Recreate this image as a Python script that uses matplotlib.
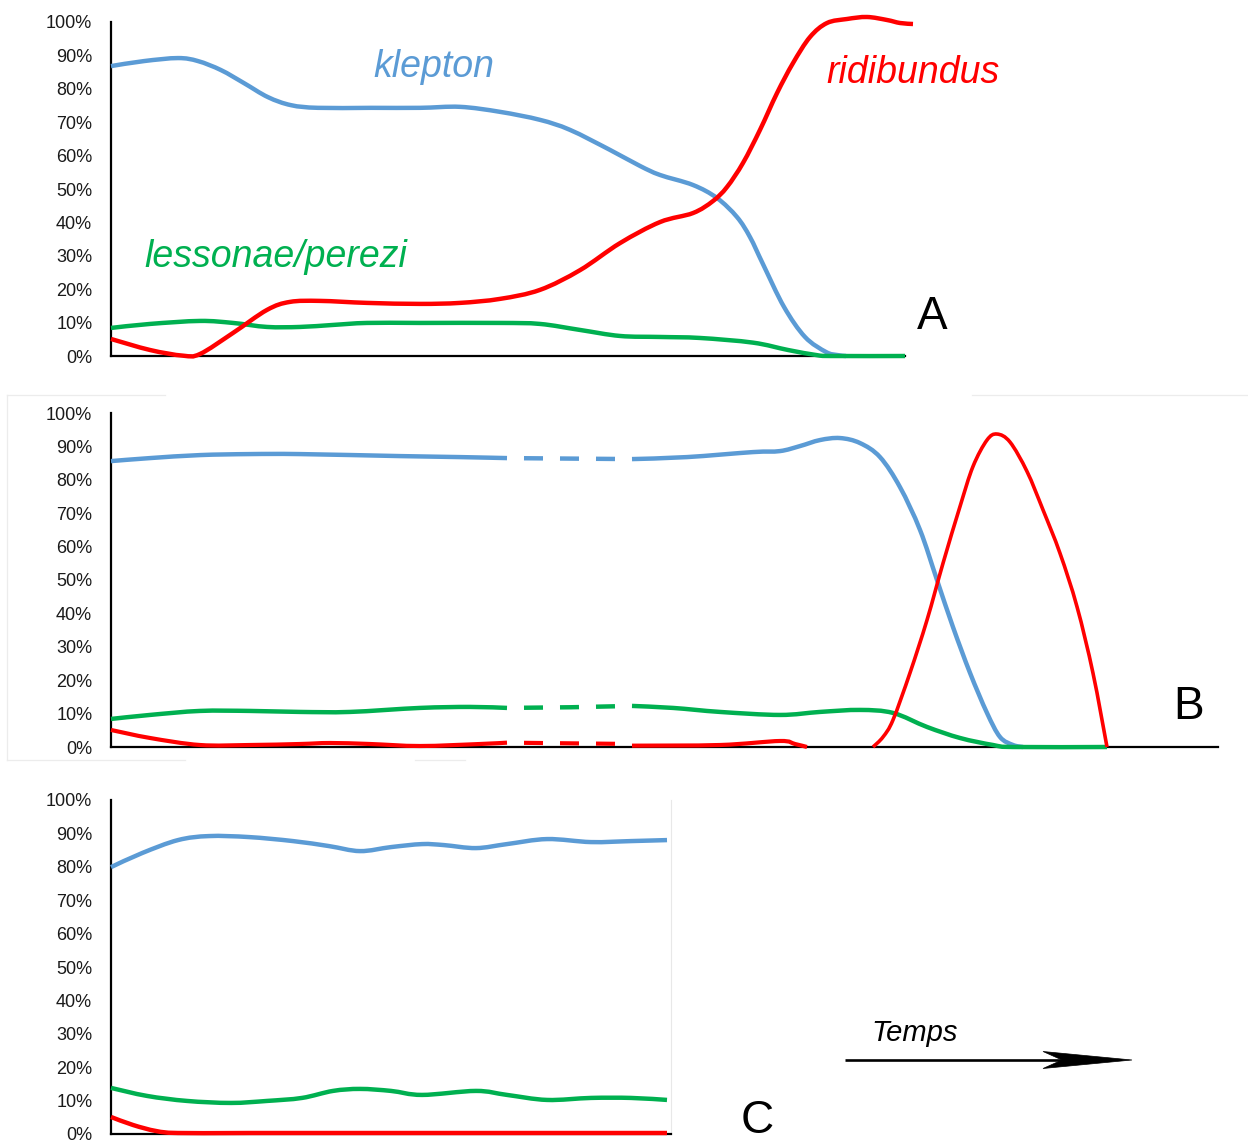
import numpy as np
import matplotlib
matplotlib.use("Agg")
import matplotlib.pyplot as plt
from matplotlib.path import Path
from matplotlib.patches import PathPatch, Polygon

# ---------------- data (time units, percentages) ----------------
tick_values = [0, 10, 20, 30, 40, 50, 60, 70, 80, 90, 100]
tick_labels = ["0%", "10%", "20%", "30%", "40%", "50%", "60%", "70%", "80%", "90%", "100%"]

# Panel A
a_klepton_t = [0, 3.3, 6.7, 8.7, 11.0, 13.3, 15.7, 18.0, 20.7, 26.0, 30.9, 34.9, 38.9, 42.9,
               45.9, 49.9, 52.9, 54.9, 58.2, 60.6, 62.6, 63.9, 65.2, 67.3, 69.4, 71.5, 72.6, 73.5]
a_klepton_v = [86.8, 88.3, 89.2, 88.3, 85.6, 81.7, 77.5, 75.1, 74.3, 74.3, 74.3, 74.6, 73.1, 70.7,
               67.7, 61.7, 56.9, 54.2, 51.2, 47.3, 41.6, 35.6, 27.5, 14.7, 5.7, 1.2, 0.3, 0.0]
a_ridibundus_t = [0, 3.9, 7.2, 8.9, 12.2, 15.6, 17.9, 20.9, 25.6, 30.9, 34.9, 38.9, 42.9, 46.9,
                  50.9, 54.9, 58.2, 60.2, 61.6, 63.2, 64.9, 66.6, 68.2, 69.9, 71.6, 73.6, 75.6,
                  77.6, 78.9, 80.2]
a_ridibundus_v = [5.1, 1.8, 0.1, 0.6, 6.9, 13.8, 16.2, 16.5, 15.9, 15.6, 15.9, 17.1, 19.8, 25.7,
                  33.8, 40.1, 42.8, 46.4, 50.6, 57.8, 67.7, 78.7, 87.7, 95.5, 99.7, 100.9, 101.5,
                  100.6, 99.7, 99.4]
a_lessonae_t = [0, 3.9, 8.9, 12.2, 15.6, 18.9, 22.2, 25.6, 30.9, 38.9, 42.9, 46.9, 50.9, 54.9,
                58.9, 64.2, 67.7, 70.5, 72.0, 79.4]
a_lessonae_v = [8.4, 9.6, 10.5, 9.9, 8.7, 8.7, 9.3, 9.9, 9.9, 9.9, 9.6, 7.8, 6.0, 5.7,
                5.4, 4.0, 1.8, 0.3, 0.0, 0.0]

# Panel B (solid part 1, dashed gap, solid part 2)
b_klepton_t1 = [0, 3.9, 8.9, 13.9, 18.9, 28.9, 34.9, 39.6]
b_klepton_v1 = [85.6, 86.5, 87.4, 87.7, 87.7, 87.1, 86.8, 86.5]
b_klepton_td = [39.6, 52.1]
b_klepton_vd = [86.5, 86.2]
b_klepton_t2 = [52.1, 57.6, 64.2, 66.9, 68.9, 70.9, 72.9, 74.9, 76.9, 78.9, 80.9, 82.6, 84.2,
                85.9, 87.6, 88.9, 90.2, 91.2]
b_klepton_v2 = [86.2, 86.8, 88.3, 88.6, 90.1, 91.9, 92.5, 91.0, 86.8, 77.8, 65.0, 50.0, 35.9,
                22.2, 10.2, 3.0, 0.6, 0.0]

b_lessonae_t1 = [0, 3.9, 8.9, 13.9, 18.9, 23.9, 30.9, 35.9, 39.6]
b_lessonae_v1 = [8.4, 9.6, 10.8, 10.8, 10.5, 10.5, 11.7, 12.0, 11.7]
b_lessonae_td = [39.6, 46.0, 52.1]
b_lessonae_vd = [11.7, 11.9, 12.3]
b_lessonae_t2 = [52.1, 56.2, 60.9, 66.9, 70.9, 74.9, 78.2, 81.6, 84.9, 88.2, 90.2, 99.6]
b_lessonae_v2 = [12.3, 11.7, 10.5, 9.6, 10.5, 11.1, 10.2, 6.0, 2.7, 0.6, 0.0, 0.0]

b_ridibundus_t1 = [0, 3.9, 8.9, 13.9, 18.9, 21.9, 25.9, 30.9, 36.9, 39.6]
b_ridibundus_v1 = [5.1, 2.7, 0.6, 0.6, 0.9, 1.2, 0.9, 0.3, 0.9, 1.3]
b_ridibundus_td = [39.6, 52.1]
b_ridibundus_vd = [1.3, 0.9]
b_ridibundus_t2 = [52.1, 60.9, 66.9, 68.4, 69.6]
b_ridibundus_v2 = [0.4, 0.6, 1.8, 0.9, 0.0]
b_ridibundus_t3 = [76.2, 77.2, 78.2, 79.9, 81.6, 83.2, 84.9, 86.2, 87.6, 88.6, 89.9, 91.6, 93.2,
                   94.9, 96.6, 98.2, 99.6]
b_ridibundus_v3 = [0.0, 3.0, 8.1, 22.2, 38.0, 55.0, 72.0, 84.0, 91.9, 93.7, 91.3, 82.5, 71.0,
                   58.0, 42.0, 22.1, 0.0]

# Panel C
c_klepton_t = [0, 3.1, 6.7, 9.8, 13.8, 18.2, 21.8, 24.9, 28.0, 31.1, 33.3, 36.5, 39.6, 43.6,
               48.0, 52.0, 55.6]
c_klepton_v = [79.9, 84.1, 88.0, 89.2, 88.9, 87.7, 86.2, 84.7, 85.9, 86.8, 86.5, 85.6, 86.8, 88.3,
               87.4, 87.7, 88.0]
c_lessonae_t = [0, 3.6, 7.6, 12.0, 15.6, 19.1, 22.2, 24.9, 28.0, 31.1, 36.5, 39.6, 43.6, 48.0,
                52.0, 55.6]
c_lessonae_v = [13.8, 11.4, 9.9, 9.3, 9.9, 10.8, 12.9, 13.5, 12.9, 11.7, 12.9, 11.7, 10.2, 10.8,
                10.8, 10.2]
c_ridibundus_t = [0, 2.2, 4.5, 6.7, 13.9, 28.9, 55.6]
c_ridibundus_v = [5.1, 2.7, 0.9, 0.3, 0.3, 0.3, 0.3]

# ---------------- style ----------------
BLUE = "#5B9BD5"
GREEN = "#00B050"
RED = "#FF0000"

W, H = 1248, 1144
plt.rcParams["font.family"] = ["Liberation Sans", "DejaVu Sans"]
plt.rcParams["lines.scale_dashes"] = False

fig = plt.figure(figsize=(W / 100, H / 100), dpi=100)

# overlay axes in pixel coordinates for decorations
over = fig.add_axes([0, 0, 1, 1])
over.set_xlim(0, W)
over.set_ylim(H, 0)
over.axis("off")
over.patch.set_alpha(0)


def add_panel(left, right, top, bottom):
    ax = fig.add_axes([left / W, 1 - bottom / H, (right - left) / W, (bottom - top) / H])
    ax.set_xlim(0, (right - left) / 10)
    ax.set_ylim(0, 100)
    ax.patch.set_alpha(0)
    ax.set_xticks([])
    ax.set_yticks(tick_values)
    ax.set_yticklabels(tick_labels)
    ax.tick_params(axis="y", length=0, pad=13.5, labelsize=13, labelcolor="#1a1a1a")
    for s in ("top", "right"):
        ax.spines[s].set_visible(False)
    for s in ("left", "bottom"):
        ax.spines[s].set_linewidth(1.6)
        ax.spines[s].set_color("black")
    return ax


def smooth_path(t, v):
    pts = np.column_stack([t, v]).astype(float)
    n = len(pts)
    verts = [pts[0]]
    codes = [Path.MOVETO]
    for i in range(n - 1):
        p0 = pts[i - 1] if i > 0 else pts[i]
        p1 = pts[i]
        p2 = pts[i + 1]
        p3 = pts[i + 2] if i + 2 < n else pts[i + 1]
        c1 = p1 + (p2 - p0) / 6.0
        c2 = p2 - (p3 - p1) / 6.0
        verts += [c1, c2, p2]
        codes += [Path.CURVE4] * 3
    return Path(verts, codes)


def curve(ax, t, v, color, lw=3.2, z=3):
    ax.add_patch(PathPatch(smooth_path(t, v), fill=False, edgecolor=color, lw=lw,
                           capstyle="butt", joinstyle="round", zorder=z, clip_on=False))


def dashed(ax, t, v, color, lw=3.2, z=3):
    on, off = 19 * 0.72, 17 * 0.72
    ax.plot(t, v, color=color, lw=lw, linestyle=(on, (on, off)), dash_capstyle="butt",
            zorder=z, clip_on=False)


# ---------------- Panel A ----------------
axA = add_panel(111, 905, 22, 356)
curve(axA, a_klepton_t, a_klepton_v, BLUE, z=3)
curve(axA, a_lessonae_t, a_lessonae_v, GREEN, z=4)
curve(axA, a_ridibundus_t, a_ridibundus_v, RED, z=5)

# ---------------- Panel B ----------------
axB = add_panel(111, 1218, 413, 747)
curve(axB, b_klepton_t1, b_klepton_v1, BLUE, z=3)
dashed(axB, b_klepton_td, b_klepton_vd, BLUE, z=3)
curve(axB, b_klepton_t2, b_klepton_v2, BLUE, z=3)
curve(axB, b_lessonae_t1, b_lessonae_v1, GREEN, z=4)
dashed(axB, b_lessonae_td, b_lessonae_vd, GREEN, z=4)
curve(axB, b_lessonae_t2, b_lessonae_v2, GREEN, z=4)
curve(axB, b_ridibundus_t1, b_ridibundus_v1, RED, lw=3.0, z=5)
dashed(axB, b_ridibundus_td, b_ridibundus_vd, RED, lw=3.0, z=5)
curve(axB, b_ridibundus_t2, b_ridibundus_v2, RED, lw=3.0, z=5)
curve(axB, b_ridibundus_t3, b_ridibundus_v3, RED, lw=2.6, z=5)

# ---------------- Panel C ----------------
axC = add_panel(111, 671, 800, 1134)
axC.spines["right"].set_visible(True)
axC.spines["right"].set_color("#e8e8e8")
axC.spines["right"].set_linewidth(0.8)
curve(axC, c_klepton_t, c_klepton_v, BLUE, z=3)
curve(axC, c_lessonae_t, c_lessonae_v, GREEN, z=4)
curve(axC, c_ridibundus_t, c_ridibundus_v, RED, z=5)

# ---------------- labels ----------------
def ftext(px, py, s, **kw):
    fig.text(px / W, 1 - py / H, s, **kw)

ftext(434, 77, "klepton", color=BLUE, fontsize=27, style="italic", ha="center", va="baseline")
ftext(913, 83, "ridibundus", color=RED, fontsize=27, style="italic", ha="center", va="baseline")
ftext(276, 267, "lessonae/perezi", color=GREEN, fontsize=27, style="italic", ha="center",
      va="baseline")
ftext(932, 329, "A", color="black", fontsize=33, ha="center", va="baseline")
ftext(1189, 719, "B", color="black", fontsize=33, ha="center", va="baseline")
ftext(757, 1143, "C", color="black", fontsize=33, ha="center", va="bottom")
ftext(915, 1041, "Temps", color="black", fontsize=21, style="italic", ha="center", va="baseline")

# Temps arrow
over.plot([845, 1065], [1060, 1060], color="black", lw=1.9, solid_capstyle="butt")
over.add_patch(Polygon([[1132, 1060], [1043, 1051.5], [1062, 1060], [1043, 1068.5]],
                       closed=True, facecolor="black", edgecolor="black", lw=0.5))

# faint frame around panel B (scan border)
faint = "#ececec"
over.plot([7, 7], [395, 760], color=faint, lw=0.9)
over.plot([7, 165], [395, 395], color=faint, lw=0.9)
over.plot([972, 1248], [395, 395], color=faint, lw=0.9)
over.plot([7, 185], [760, 760], color=faint, lw=0.9)
over.plot([415, 465], [760, 760], color=faint, lw=0.9)

fig.savefig("out.png", dpi=100)
